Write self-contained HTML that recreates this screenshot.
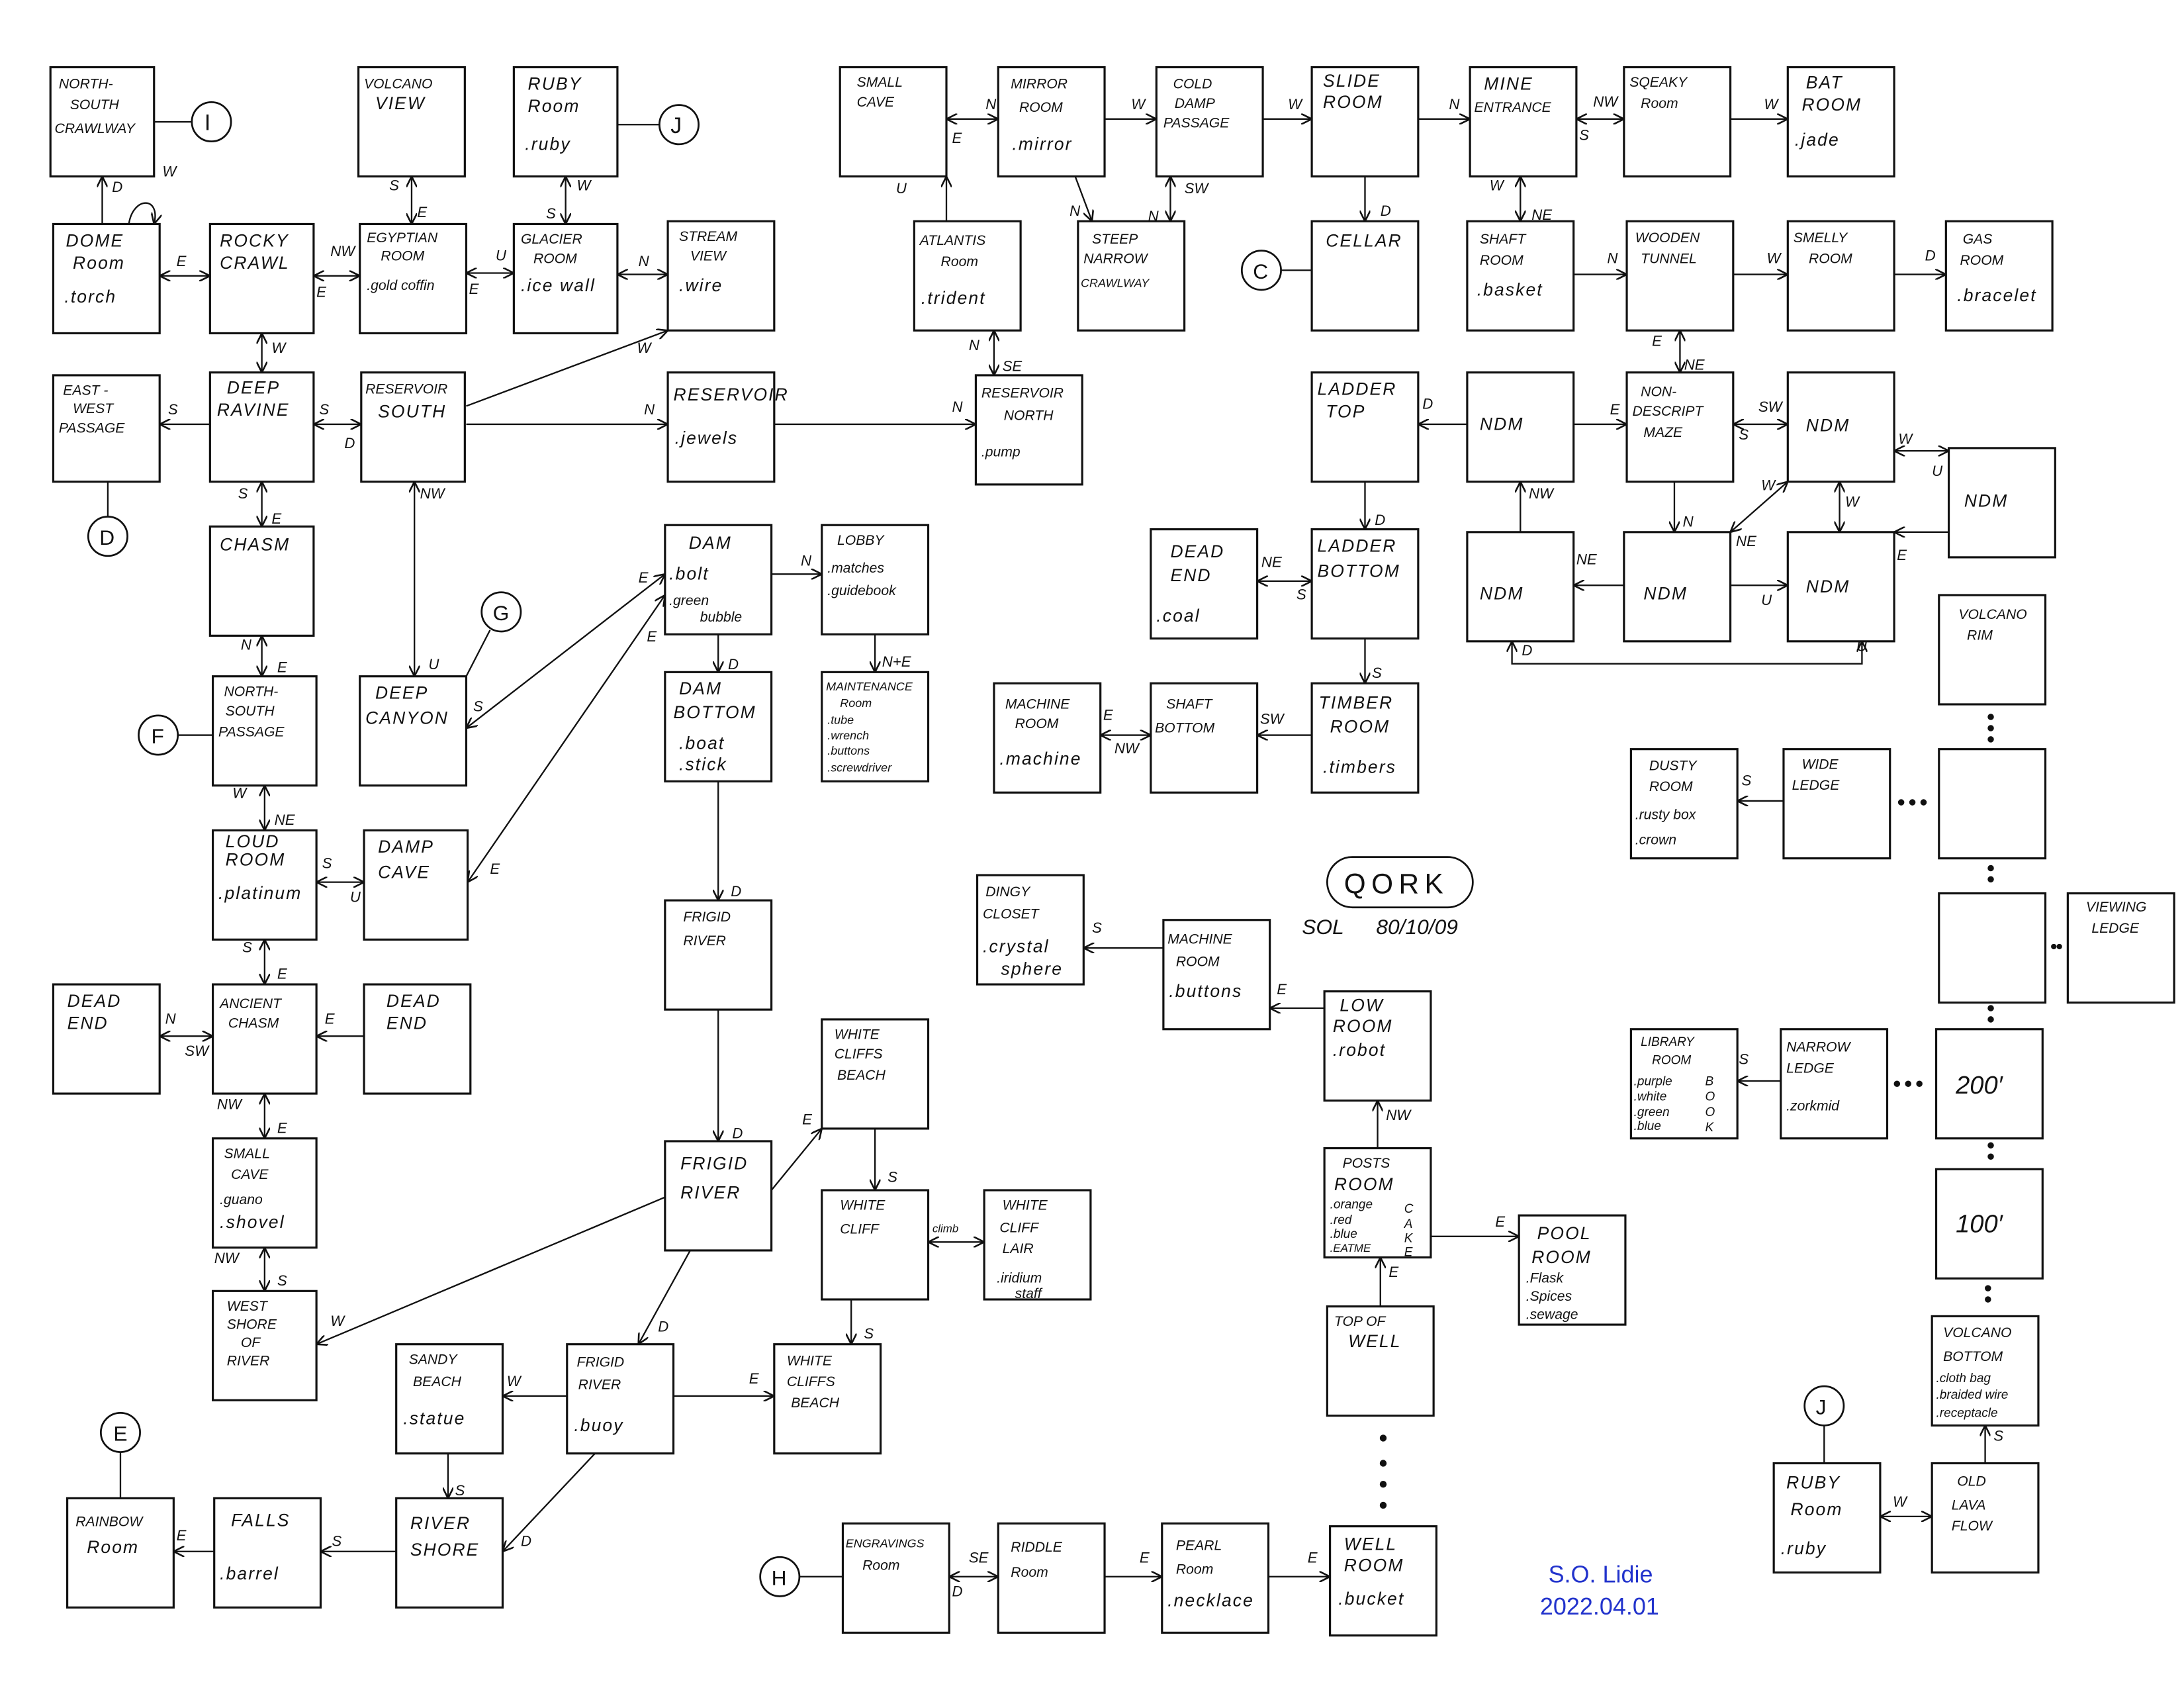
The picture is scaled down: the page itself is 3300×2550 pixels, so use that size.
<!DOCTYPE html>
<html><head><meta charset="utf-8"><style>
html,body{margin:0;padding:0;background:#fff;}
svg{display:block;}
text{font-family:"Liberation Sans",sans-serif;font-style:italic;fill:#111;}
.t{font-size:12.5px;letter-spacing:1px;}
.s{font-size:10px;}
.l{font-size:10.5px;}
rect{fill:#fff;stroke:#111;stroke-width:1.5;}
line,path.c{stroke:#111;stroke-width:1.1;fill:none;}
circle{fill:#fff;stroke:#111;stroke-width:1.3;}
</style></head><body>
<svg width="3300" height="2550" viewBox="0 0 1560 1205.5" xmlns="http://www.w3.org/2000/svg">
<defs><marker id="a" viewBox="0 0 10 10" refX="10" refY="5" markerWidth="7" markerHeight="7" orient="auto-start-reverse"><path d="M0,0 L10,5 L0,10" fill="none" stroke="#111" stroke-width="1.6"/></marker></defs>
<rect x="0" y="0" width="1560" height="1206" style="stroke:none"/>

<!-- boxes -->
<g>
<rect x="36" y="48" width="74" height="78"/><text class="s" x="42" y="63">NORTH-</text><text class="s" x="50" y="78">SOUTH</text><text class="s" x="39" y="95">CRAWLWAY</text>
<rect x="256" y="48" width="76" height="78"/><text class="s" x="260" y="63">VOLCANO</text><text class="t" x="268" y="78">VIEW</text>
<rect x="367" y="48" width="74" height="78"/><text class="t" x="377" y="64">RUBY</text><text class="t" x="377" y="80">Room</text><text class="t" x="375" y="107">.ruby</text>
<rect x="38" y="160" width="76" height="78"/><text class="t" x="47" y="176">DOME</text><text class="t" x="52" y="192">Room</text><text class="t" x="46" y="216">.torch</text>
<rect x="150" y="160" width="74" height="78"/><text class="t" x="157" y="176">ROCKY</text><text class="t" x="157" y="192">CRAWL</text>
<rect x="257" y="160" width="76" height="78"/><text class="s" x="262" y="173">EGYPTIAN</text><text class="s" x="272" y="186">ROOM</text><text class="s" x="262" y="207">.gold coffin</text>
<rect x="367" y="160" width="74" height="78"/><text class="s" x="372" y="174">GLACIER</text><text class="s" x="381" y="188">ROOM</text><text class="t" x="372" y="208">.ice wall</text>
<rect x="477" y="158" width="76" height="78"/><text class="s" x="485" y="172">STREAM</text><text class="s" x="493" y="186">VIEW</text><text class="t" x="485" y="208">.wire</text>
<rect x="38" y="268" width="76" height="76"/><text class="s" x="45" y="282">EAST -</text><text class="s" x="52" y="295">WEST</text><text class="s" x="42" y="309">PASSAGE</text>
<rect x="150" y="266" width="74" height="78"/><text class="t" x="162" y="281">DEEP</text><text class="t" x="155" y="297">RAVINE</text>
<rect x="258" y="266" width="74" height="78"/><text class="s" x="261" y="281">RESERVOIR</text><text class="t" x="270" y="298">SOUTH</text>
<rect x="477" y="266" width="76" height="78"/><text class="t" x="481" y="286">RESERVOIR</text><text class="t" x="482" y="317">.jewels</text>
<rect x="150" y="376" width="74" height="78"/><text class="t" x="157" y="393">CHASM</text>
<rect x="257" y="483" width="76" height="78"/><text class="t" x="268" y="499">DEEP</text><text class="t" x="261" y="517">CANYON</text>
<rect x="152" y="483" width="74" height="78"/><text class="s" x="160" y="497">NORTH-</text><text class="s" x="161" y="511">SOUTH</text><text class="s" x="156" y="526">PASSAGE</text>
<rect x="152" y="593" width="74" height="78"/><text class="t" x="161" y="605">LOUD</text><text class="t" x="161" y="618">ROOM</text><text class="t" x="156" y="642">.platinum</text>
<rect x="260" y="593" width="74" height="78"/><text class="t" x="270" y="609">DAMP</text><text class="t" x="270" y="627">CAVE</text>
<rect x="38" y="703" width="76" height="78"/><text class="t" x="48" y="719">DEAD</text><text class="t" x="48" y="735">END</text>
<rect x="152" y="703" width="74" height="78"/><text class="s" x="157" y="720">ANCIENT</text><text class="s" x="163" y="734">CHASM</text>
<rect x="260" y="703" width="76" height="78"/><text class="t" x="276" y="719">DEAD</text><text class="t" x="276" y="735">END</text>
<rect x="152" y="813" width="74" height="78"/><text class="s" x="160" y="827">SMALL</text><text class="s" x="165" y="842">CAVE</text><text class="s" x="157" y="860">.guano</text><text class="t" x="157" y="877">.shovel</text>
<rect x="152" y="922" width="74" height="78"/><text class="s" x="162" y="936">WEST</text><text class="s" x="162" y="949">SHORE</text><text class="s" x="172" y="962">OF</text><text class="s" x="162" y="975">RIVER</text>
<rect x="48" y="1070" width="76" height="78"/><text class="s" x="54" y="1090">RAINBOW</text><text class="t" x="62" y="1109">Room</text>
<rect x="153" y="1070" width="76" height="78"/><text class="t" x="165" y="1090">FALLS</text><text class="t" x="157" y="1128">.barrel</text>
<rect x="283" y="1070" width="76" height="78"/><text class="t" x="293" y="1092">RIVER</text><text class="t" x="293" y="1111">SHORE</text>
<rect x="283" y="960" width="76" height="78"/><text class="s" x="292" y="974">SANDY</text><text class="s" x="295" y="990">BEACH</text><text class="t" x="288" y="1017">.statue</text>
<rect x="405" y="960" width="76" height="78"/><text class="s" x="412" y="976">FRIGID</text><text class="s" x="413" y="992">RIVER</text><text class="t" x="410" y="1022">.buoy</text>
<rect x="553" y="960" width="76" height="78"/><text class="s" x="562" y="975">WHITE</text><text class="s" x="562" y="990">CLIFFS</text><text class="s" x="565" y="1005">BEACH</text>
<rect x="475" y="815" width="76" height="78"/><text class="t" x="486" y="835">FRIGID</text><text class="t" x="486" y="856">RIVER</text>
<rect x="475" y="643" width="76" height="78"/><text class="s" x="488" y="658">FRIGID</text><text class="s" x="488" y="675">RIVER</text>
<rect x="475" y="480" width="76" height="78"/><text class="t" x="485" y="496">DAM</text><text class="t" x="481" y="513">BOTTOM</text><text class="t" x="485" y="535">.boat</text><text class="t" x="485" y="550">.stick</text>
<rect x="475" y="375" width="76" height="78"/><text class="t" x="492" y="392">DAM</text><text class="t" x="478" y="414">.bolt</text><text class="s" x="478" y="432">.green</text><text class="s" x="500" y="444">bubble</text>
<rect x="587" y="375" width="76" height="78"/><text class="s" x="598" y="389">LOBBY</text><text class="s" x="591" y="409">.matches</text><text class="s" x="591" y="425">.guidebook</text>
<rect x="587" y="480" width="76" height="78"/><text style="font-size:8.5px" x="590" y="493">MAINTENANCE</text><text style="font-size:8.5px" x="600" y="505">Room</text><text style="font-size:8.5px" x="591" y="517">.tube</text><text style="font-size:8.5px" x="591" y="528">.wrench</text><text style="font-size:8.5px" x="591" y="539">.buttons</text><text style="font-size:8.5px" x="591" y="551">.screwdriver</text>
<rect x="587" y="728" width="76" height="78"/><text class="s" x="596" y="742">WHITE</text><text class="s" x="596" y="756">CLIFFS</text><text class="s" x="598" y="771">BEACH</text>
<rect x="587" y="850" width="76" height="78"/><text class="s" x="600" y="864">WHITE</text><text class="s" x="600" y="881">CLIFF</text>
<rect x="703" y="850" width="76" height="78"/><text class="s" x="716" y="864">WHITE</text><text class="s" x="714" y="880">CLIFF</text><text class="s" x="716" y="895">LAIR</text><text class="s" x="712" y="916">.iridium</text><text class="s" x="725" y="927">staff</text>

<rect x="600" y="48" width="76" height="78"/><text class="s" x="612" y="62">SMALL</text><text class="s" x="612" y="76">CAVE</text>
<rect x="713" y="48" width="76" height="78"/><text class="s" x="722" y="63">MIRROR</text><text class="s" x="728" y="80">ROOM</text><text class="t" x="723" y="107">.mirror</text>
<rect x="826" y="48" width="76" height="78"/><text class="s" x="838" y="63">COLD</text><text class="s" x="839" y="77">DAMP</text><text class="s" x="831" y="91">PASSAGE</text>
<rect x="937" y="48" width="76" height="78"/><text class="t" x="945" y="62">SLIDE</text><text class="t" x="945" y="77">ROOM</text>
<rect x="1050" y="48" width="76" height="78"/><text class="t" x="1060" y="64">MINE</text><text class="s" x="1053" y="80">ENTRANCE</text>
<rect x="1160" y="48" width="76" height="78"/><text class="s" x="1164" y="62">SQEAKY</text><text class="s" x="1172" y="77">Room</text>
<rect x="1277" y="48" width="76" height="78"/><text class="t" x="1290" y="63">BAT</text><text class="t" x="1287" y="79">ROOM</text><text class="t" x="1282" y="104">.jade</text>
<rect x="653" y="158" width="76" height="78"/><text class="s" x="657" y="175">ATLANTIS</text><text class="s" x="672" y="190">Room</text><text class="t" x="658" y="217">.trident</text>
<rect x="770" y="158" width="76" height="78"/><text class="s" x="780" y="174">STEEP</text><text class="s" x="774" y="188">NARROW</text><text style="font-size:8.5px" x="772" y="205">CRAWLWAY</text>
<rect x="697" y="268" width="76" height="78"/><text class="s" x="701" y="284">RESERVOIR</text><text class="s" x="717" y="300">NORTH</text><text class="s" x="701" y="326">.pump</text>
<rect x="937" y="158" width="76" height="78"/><text class="t" x="947" y="176">CELLAR</text>
<rect x="1048" y="158" width="76" height="78"/><text class="s" x="1057" y="174">SHAFT</text><text class="s" x="1057" y="189">ROOM</text><text class="t" x="1055" y="211">.basket</text>
<rect x="1162" y="158" width="76" height="78"/><text class="s" x="1168" y="173">WOODEN</text><text class="s" x="1172" y="188">TUNNEL</text>
<rect x="1277" y="158" width="76" height="78"/><text class="s" x="1281" y="173">SMELLY</text><text class="s" x="1292" y="188">ROOM</text>
<rect x="1390" y="158" width="76" height="78"/><text class="s" x="1402" y="174">GAS</text><text class="s" x="1400" y="189">ROOM</text><text class="t" x="1398" y="215">.bracelet</text>
<rect x="937" y="266" width="76" height="78"/><text class="t" x="941" y="282">LADDER</text><text class="t" x="947" y="298">TOP</text>
<rect x="1048" y="266" width="76" height="78"/><text class="t" x="1057" y="307">NDM</text>
<rect x="1162" y="266" width="76" height="78"/><text class="s" x="1172" y="283">NON-</text><text class="s" x="1166" y="297">DESCRIPT</text><text class="s" x="1174" y="312">MAZE</text>
<rect x="1277" y="266" width="76" height="78"/><text class="t" x="1290" y="308">NDM</text>
<rect x="1392" y="320" width="76" height="78"/><text class="t" x="1403" y="362">NDM</text>
<rect x="822" y="378" width="76" height="78"/><text class="t" x="836" y="398">DEAD</text><text class="t" x="836" y="415">END</text><text class="t" x="826" y="444">.coal</text>
<rect x="937" y="378" width="76" height="78"/><text class="t" x="941" y="394">LADDER</text><text class="t" x="941" y="412">BOTTOM</text>
<rect x="1048" y="380" width="76" height="78"/><text class="t" x="1057" y="428">NDM</text>
<rect x="1160" y="380" width="76" height="78"/><text class="t" x="1174" y="428">NDM</text>
<rect x="1277" y="380" width="76" height="78"/><text class="t" x="1290" y="423">NDM</text>
<rect x="710" y="488" width="76" height="78"/><text class="s" x="718" y="506">MACHINE</text><text class="s" x="725" y="520">ROOM</text><text class="t" x="714" y="546">.machine</text>
<rect x="822" y="488" width="76" height="78"/><text class="s" x="833" y="506">SHAFT</text><text class="s" x="825" y="523">BOTTOM</text>
<rect x="937" y="488" width="76" height="78"/><text class="t" x="942" y="506">TIMBER</text><text class="t" x="950" y="523">ROOM</text><text class="t" x="945" y="552">.timbers</text>
<rect x="1385" y="425" width="76" height="78"/><text class="s" x="1399" y="442">VOLCANO</text><text class="s" x="1405" y="457">RIM</text>
<rect x="1165" y="535" width="76" height="78"/><text class="s" x="1178" y="550">DUSTY</text><text class="s" x="1178" y="565">ROOM</text><text class="s" x="1168" y="585">.rusty box</text><text class="s" x="1168" y="603">.crown</text>
<rect x="1274" y="535" width="76" height="78"/><text class="s" x="1287" y="549">WIDE</text><text class="s" x="1280" y="564">LEDGE</text>
<rect x="1385" y="535" width="76" height="78"/>
<rect x="1385" y="638" width="76" height="78"/>
<rect x="1477" y="638" width="76" height="78"/><text class="s" x="1490" y="651">VIEWING</text><text class="s" x="1494" y="666">LEDGE</text>
<rect x="1165" y="735" width="76" height="78"/><text style="font-size:9px" x="1172" y="747">LIBRARY</text><text style="font-size:9px" x="1180" y="760">ROOM</text><text style="font-size:9px" x="1167" y="775">.purple</text><text style="font-size:9px" x="1167" y="786">.white</text><text style="font-size:9px" x="1167" y="797">.green</text><text style="font-size:9px" x="1167" y="807">.blue</text><text style="font-size:9px" x="1218" y="775">B</text><text style="font-size:9px" x="1218" y="786">O</text><text style="font-size:9px" x="1218" y="797">O</text><text style="font-size:9px" x="1218" y="808">K</text>
<rect x="1272" y="735" width="76" height="78"/><text class="s" x="1276" y="751">NARROW</text><text class="s" x="1276" y="766">LEDGE</text><text class="s" x="1276" y="793">.zorkmid</text>
<rect x="1383" y="735" width="76" height="78"/><text x="1397" y="781" style="font-size:18px">200′</text>
<rect x="1383" y="835" width="76" height="78"/><text x="1397" y="880" style="font-size:18px">100′</text>
<rect x="1380" y="940" width="76" height="78"/><text class="s" x="1388" y="955">VOLCANO</text><text class="s" x="1388" y="972">BOTTOM</text><text style="font-size:9px" x="1383" y="987">.cloth bag</text><text style="font-size:9px" x="1383" y="999">.braided wire</text><text style="font-size:9px" x="1383" y="1012">.receptacle</text>
<rect x="1267" y="1045" width="76" height="78"/><text class="t" x="1276" y="1063">RUBY</text><text class="t" x="1279" y="1082">Room</text><text class="t" x="1272" y="1110">.ruby</text>
<rect x="1380" y="1045" width="76" height="78"/><text class="s" x="1398" y="1061">OLD</text><text class="s" x="1394" y="1078">LAVA</text><text class="s" x="1394" y="1093">FLOW</text>
<rect x="698" y="625" width="76" height="78"/><text class="s" x="704" y="640">DINGY</text><text class="s" x="702" y="656">CLOSET</text><text class="t" x="702" y="680">.crystal</text><text class="t" x="715" y="696">sphere</text>
<rect x="831" y="657" width="76" height="78"/><text class="s" x="834" y="674">MACHINE</text><text class="s" x="840" y="690">ROOM</text><text class="t" x="835" y="712">.buttons</text>
<rect x="946" y="708" width="76" height="78"/><text class="t" x="957" y="722">LOW</text><text class="t" x="952" y="737">ROOM</text><text class="t" x="952" y="754">.robot</text>
<rect x="946" y="820" width="76" height="78"/><text class="s" x="959" y="834">POSTS</text><text class="t" x="953" y="850">ROOM</text><text style="font-size:9px" x="950" y="863">.orange</text><text style="font-size:9px" x="950" y="874">.red</text><text style="font-size:9px" x="950" y="884">.blue</text><text style="font-size:8px" x="950" y="894">.EATME</text><text style="font-size:9px" x="1003" y="866">C</text><text style="font-size:9px" x="1003" y="877">A</text><text style="font-size:9px" x="1003" y="887">K</text><text style="font-size:9px" x="1003" y="897">E</text>
<rect x="1085" y="868" width="76" height="78"/><text class="t" x="1098" y="885">POOL</text><text class="t" x="1094" y="902">ROOM</text><text class="s" x="1090" y="916">.Flask</text><text class="s" x="1090" y="929">.Spices</text><text class="s" x="1090" y="942">.sewage</text>
<rect x="948" y="933" width="76" height="78"/><text class="s" x="953" y="947">TOP OF</text><text class="t" x="963" y="962">WELL</text>
<rect x="950" y="1090" width="76" height="78"/><text class="t" x="960" y="1107">WELL</text><text class="t" x="960" y="1122">ROOM</text><text class="t" x="956" y="1146">.bucket</text>
<rect x="602" y="1088" width="76" height="78"/><text style="font-size:8.5px" x="604" y="1105">ENGRAVINGS</text><text class="s" x="616" y="1121">Room</text>
<rect x="713" y="1088" width="76" height="78"/><text class="s" x="722" y="1108">RIDDLE</text><text class="s" x="722" y="1126">Room</text>
<rect x="830" y="1088" width="76" height="78"/><text class="s" x="840" y="1107">PEARL</text><text class="s" x="840" y="1124">Room</text><text class="t" x="834" y="1147">.necklace</text>
</g>

<!-- circles -->
<g>
<circle cx="151" cy="87" r="14"/><text x="146" y="93" style="font-size:16px;font-style:normal">I</text>
<circle cx="485" cy="89" r="14"/><text x="479" y="95" style="font-size:16px;font-style:normal">J</text>
<circle cx="77" cy="383" r="14"/><text x="71" y="389" style="font-size:15px;font-style:normal">D</text>
<circle cx="358" cy="437" r="14"/><text x="352" y="443" style="font-size:15px;font-style:normal">G</text>
<circle cx="113" cy="525" r="14"/><text x="108" y="531" style="font-size:15px;font-style:normal">F</text>
<circle cx="86" cy="1023" r="14"/><text x="81" y="1029" style="font-size:15px;font-style:normal">E</text>
<circle cx="557" cy="1126" r="14"/><text x="551" y="1132" style="font-size:15px;font-style:normal">H</text>
<circle cx="901" cy="193" r="14"/><text x="895" y="199" style="font-size:15px;font-style:normal">C</text>
<circle cx="1303" cy="1004" r="14"/><text x="1297" y="1010" style="font-size:15px;font-style:normal">J</text>
</g>

<!-- QORK -->
<rect x="948" y="612" width="104" height="36" rx="18" style="stroke-width:1.3"/>
<text x="960" y="638" style="font-size:20px;font-style:normal;letter-spacing:4px">QORK</text>
<text x="930" y="667" style="font-size:15px">SOL</text><text x="983" y="667" style="font-size:15px">80/10/09</text>
<text x="1106" y="1130" style="font-size:17px;font-style:normal;fill:#2233cc">S.O. Lidie</text>
<text x="1100" y="1153" style="font-size:17px;font-style:normal;fill:#2233cc">2022.04.01</text>

<!-- connectors -->
<g>
<line x1="73" y1="160" x2="73" y2="126" marker-end="url(#a)"/>
<path class="c" d="M92,160 C95,140 115,140 110,160" marker-end="url(#a)"/>
<line x1="114" y1="197" x2="150" y2="197" marker-start="url(#a)" marker-end="url(#a)"/>
<line x1="224" y1="197" x2="257" y2="197" marker-start="url(#a)" marker-end="url(#a)"/>
<line x1="294" y1="160" x2="294" y2="126" marker-start="url(#a)" marker-end="url(#a)"/>
<line x1="333" y1="195" x2="367" y2="195" marker-start="url(#a)" marker-end="url(#a)"/>
<line x1="404" y1="160" x2="404" y2="126" marker-start="url(#a)" marker-end="url(#a)"/>
<line x1="441" y1="196" x2="477" y2="196" marker-start="url(#a)" marker-end="url(#a)"/>
<line x1="441" y1="89" x2="471" y2="89"/>
<line x1="110" y1="87" x2="137" y2="87"/>
<line x1="187" y1="238" x2="187" y2="266" marker-start="url(#a)" marker-end="url(#a)"/>
<line x1="150" y1="303" x2="114" y2="303" marker-end="url(#a)"/>
<line x1="77" y1="344" x2="77" y2="369"/>
<line x1="224" y1="303" x2="258" y2="303" marker-start="url(#a)" marker-end="url(#a)"/>
<line x1="333" y1="290" x2="477" y2="236" marker-end="url(#a)"/>
<line x1="333" y1="303" x2="477" y2="303" marker-end="url(#a)"/>
<line x1="553" y1="303" x2="697" y2="303" marker-end="url(#a)"/>
<line x1="296" y1="344" x2="296" y2="483" marker-start="url(#a)" marker-end="url(#a)"/>
<line x1="187" y1="344" x2="187" y2="376" marker-start="url(#a)" marker-end="url(#a)"/>
<line x1="187" y1="454" x2="187" y2="483" marker-start="url(#a)" marker-end="url(#a)"/>
<line x1="127" y1="525" x2="152" y2="525"/>
<line x1="189" y1="561" x2="189" y2="593" marker-start="url(#a)" marker-end="url(#a)"/>
<line x1="226" y1="630" x2="260" y2="630" marker-start="url(#a)" marker-end="url(#a)"/>
<line x1="189" y1="671" x2="189" y2="703" marker-start="url(#a)" marker-end="url(#a)"/>
<line x1="114" y1="740" x2="152" y2="740" marker-start="url(#a)" marker-end="url(#a)"/>
<line x1="260" y1="740" x2="226" y2="740" marker-end="url(#a)"/>
<line x1="189" y1="781" x2="189" y2="813" marker-start="url(#a)" marker-end="url(#a)"/>
<line x1="189" y1="891" x2="189" y2="922" marker-start="url(#a)" marker-end="url(#a)"/>
<line x1="333" y1="520" x2="475" y2="410" marker-start="url(#a)" marker-end="url(#a)"/>
<line x1="334" y1="630" x2="475" y2="425" marker-start="url(#a)" marker-end="url(#a)"/>
<line x1="333" y1="483" x2="350" y2="450"/>
<line x1="551" y1="410" x2="587" y2="410" marker-end="url(#a)"/>
<line x1="625" y1="453" x2="625" y2="480" marker-end="url(#a)"/>
<line x1="513" y1="453" x2="513" y2="480" marker-end="url(#a)"/>
<line x1="513" y1="558" x2="513" y2="643" marker-end="url(#a)"/>
<line x1="513" y1="721" x2="513" y2="815" marker-end="url(#a)"/>
<line x1="551" y1="850" x2="587" y2="806" marker-end="url(#a)"/>
<line x1="475" y1="855" x2="226" y2="960" marker-end="url(#a)"/>
<line x1="493" y1="893" x2="456" y2="960" marker-end="url(#a)"/>
<line x1="625" y1="806" x2="625" y2="850" marker-end="url(#a)"/>
<line x1="663" y1="887" x2="703" y2="887" marker-start="url(#a)" marker-end="url(#a)"/>
<line x1="608" y1="928" x2="608" y2="960" marker-end="url(#a)"/>
<line x1="481" y1="997" x2="553" y2="997" marker-end="url(#a)"/>
<line x1="405" y1="997" x2="359" y2="997" marker-end="url(#a)"/>
<line x1="320" y1="1038" x2="320" y2="1070" marker-end="url(#a)"/>
<line x1="425" y1="1038" x2="359" y2="1108" marker-end="url(#a)"/>
<line x1="283" y1="1108" x2="229" y2="1108" marker-end="url(#a)"/>
<line x1="153" y1="1108" x2="124" y2="1108" marker-end="url(#a)"/>
<line x1="86" y1="1070" x2="86" y2="1037"/>

<line x1="676" y1="85" x2="713" y2="85" marker-start="url(#a)" marker-end="url(#a)"/>
<line x1="789" y1="85" x2="826" y2="85" marker-end="url(#a)"/>
<line x1="902" y1="85" x2="937" y2="85" marker-end="url(#a)"/>
<line x1="1013" y1="85" x2="1050" y2="85" marker-end="url(#a)"/>
<line x1="1126" y1="85" x2="1160" y2="85" marker-start="url(#a)" marker-end="url(#a)"/>
<line x1="1236" y1="85" x2="1277" y2="85" marker-end="url(#a)"/>
<line x1="676" y1="158" x2="676" y2="126" marker-end="url(#a)"/>
<line x1="768" y1="126" x2="780" y2="158" marker-end="url(#a)"/>
<line x1="836" y1="126" x2="836" y2="158" marker-start="url(#a)" marker-end="url(#a)"/>
<line x1="710" y1="236" x2="710" y2="268" marker-start="url(#a)" marker-end="url(#a)"/>
<line x1="975" y1="126" x2="975" y2="158" marker-end="url(#a)"/>
<line x1="1086" y1="126" x2="1086" y2="158" marker-start="url(#a)" marker-end="url(#a)"/>
<line x1="915" y1="193" x2="937" y2="193"/>
<line x1="1124" y1="196" x2="1162" y2="196" marker-end="url(#a)"/>
<line x1="1238" y1="196" x2="1277" y2="196" marker-end="url(#a)"/>
<line x1="1353" y1="196" x2="1390" y2="196" marker-end="url(#a)"/>
<line x1="1200" y1="236" x2="1200" y2="266" marker-start="url(#a)" marker-end="url(#a)"/>
<line x1="1048" y1="303" x2="1013" y2="303" marker-end="url(#a)"/>
<line x1="1124" y1="303" x2="1162" y2="303" marker-end="url(#a)"/>
<line x1="1238" y1="303" x2="1277" y2="303" marker-start="url(#a)" marker-end="url(#a)"/>
<line x1="975" y1="344" x2="975" y2="378" marker-end="url(#a)"/>
<line x1="898" y1="415" x2="937" y2="415" marker-start="url(#a)" marker-end="url(#a)"/>
<line x1="975" y1="456" x2="975" y2="488" marker-end="url(#a)"/>
<line x1="937" y1="525" x2="898" y2="525" marker-end="url(#a)"/>
<line x1="786" y1="525" x2="822" y2="525" marker-start="url(#a)" marker-end="url(#a)"/>
<line x1="1086" y1="380" x2="1086" y2="344" marker-end="url(#a)"/>
<line x1="1196" y1="344" x2="1196" y2="380" marker-end="url(#a)"/>
<line x1="1160" y1="418" x2="1124" y2="418" marker-end="url(#a)"/>
<line x1="1314" y1="344" x2="1314" y2="380" marker-start="url(#a)" marker-end="url(#a)"/>
<line x1="1236" y1="380" x2="1277" y2="344" marker-start="url(#a)" marker-end="url(#a)"/>
<line x1="1236" y1="418" x2="1277" y2="418" marker-end="url(#a)"/>
<line x1="1392" y1="380" x2="1353" y2="380" marker-end="url(#a)"/>
<line x1="1353" y1="322" x2="1392" y2="322" marker-start="url(#a)" marker-end="url(#a)"/>
<path class="c" d="M1330,458 L1330,474 L1080,474 L1080,458" marker-start="url(#a)" marker-end="url(#a)"/>

<line x1="1274" y1="572" x2="1241" y2="572" marker-end="url(#a)"/>
<line x1="1272" y1="772" x2="1241" y2="772" marker-end="url(#a)"/>
<line x1="1418" y1="1045" x2="1418" y2="1018" marker-end="url(#a)"/>
<line x1="1343" y1="1083" x2="1380" y2="1083" marker-start="url(#a)" marker-end="url(#a)"/>
<line x1="1303" y1="1045" x2="1303" y2="1018"/>
<line x1="831" y1="677" x2="774" y2="677" marker-end="url(#a)"/>
<line x1="946" y1="720" x2="907" y2="720" marker-end="url(#a)"/>
<line x1="984" y1="820" x2="984" y2="786" marker-end="url(#a)"/>
<line x1="986" y1="933" x2="986" y2="898" marker-end="url(#a)"/>
<line x1="1022" y1="883" x2="1085" y2="883" marker-end="url(#a)"/>
<line x1="571" y1="1126" x2="602" y2="1126"/>
<line x1="678" y1="1126" x2="713" y2="1126" marker-start="url(#a)" marker-end="url(#a)"/>
<line x1="789" y1="1126" x2="830" y2="1126" marker-end="url(#a)"/>
<line x1="906" y1="1126" x2="950" y2="1126" marker-end="url(#a)"/>
</g>
<!-- dotted -->
<g fill="#111">
<circle cx="1422" cy="512" r="1.6" style="fill:#111"/><circle cx="1422" cy="520" r="1.6" style="fill:#111"/><circle cx="1422" cy="528" r="1.6" style="fill:#111"/>
<circle cx="1422" cy="620" r="1.6" style="fill:#111"/><circle cx="1422" cy="628" r="1.6" style="fill:#111"/>
<circle cx="1422" cy="720" r="1.6" style="fill:#111"/><circle cx="1422" cy="728" r="1.6" style="fill:#111"/>
<circle cx="1422" cy="818" r="1.6" style="fill:#111"/><circle cx="1422" cy="826" r="1.6" style="fill:#111"/>
<circle cx="1420" cy="920" r="1.6" style="fill:#111"/><circle cx="1420" cy="928" r="1.6" style="fill:#111"/>
<circle cx="1358" cy="573" r="1.6" style="fill:#111"/><circle cx="1366" cy="573" r="1.6" style="fill:#111"/><circle cx="1374" cy="573" r="1.6" style="fill:#111"/>
<circle cx="1355" cy="774" r="1.6" style="fill:#111"/><circle cx="1363" cy="774" r="1.6" style="fill:#111"/><circle cx="1371" cy="774" r="1.6" style="fill:#111"/>
<circle cx="1467" cy="676" r="1.3" style="fill:#111"/><circle cx="1471" cy="676" r="1.3" style="fill:#111"/>
<circle cx="988" cy="1027" r="1.8" style="fill:#111"/><circle cx="988" cy="1045" r="1.8" style="fill:#111"/><circle cx="988" cy="1060" r="1.8" style="fill:#111"/><circle cx="988" cy="1075" r="1.8" style="fill:#111"/>
</g>
<!-- direction labels -->
<g class="l" style="font-size:10.5px">
<text class="l" x="80" y="137">D</text><text class="l" x="116" y="126">W</text>
<text class="l" x="126" y="190">E</text><text class="l" x="236" y="183">NW</text><text class="l" x="226" y="212">E</text>
<text class="l" x="278" y="136">S</text><text class="l" x="298" y="155">E</text>
<text class="l" x="354" y="186">U</text><text class="l" x="335" y="210">E</text>
<text class="l" x="390" y="156">S</text><text class="l" x="412" y="136">W</text>
<text class="l" x="456" y="190">N</text>
<text class="l" x="194" y="252">W</text><text class="l" x="120" y="296">S</text>
<text class="l" x="228" y="296">S</text><text class="l" x="246" y="320">D</text>
<text class="l" x="455" y="252">W</text><text class="l" x="460" y="296">N</text><text class="l" x="680" y="294">N</text>
<text class="l" x="300" y="356">NW</text><text class="l" x="306" y="478">U</text>
<text class="l" x="170" y="356">S</text><text class="l" x="194" y="374">E</text>
<text class="l" x="172" y="464">N</text><text class="l" x="198" y="480">E</text>
<text class="l" x="166" y="570">W</text><text class="l" x="196" y="589">NE</text>
<text class="l" x="230" y="620">S</text><text class="l" x="250" y="644">U</text>
<text class="l" x="173" y="680">S</text><text class="l" x="198" y="699">E</text>
<text class="l" x="118" y="731">N</text><text class="l" x="132" y="754">SW</text><text class="l" x="232" y="731">E</text>
<text class="l" x="155" y="792">NW</text><text class="l" x="198" y="809">E</text>
<text class="l" x="153" y="902">NW</text><text class="l" x="198" y="918">S</text>
<text class="l" x="338" y="508">S</text><text class="l" x="456" y="416">E</text><text class="l" x="350" y="624">E</text><text class="l" x="462" y="458">E</text>
<text class="l" x="572" y="404">N</text><text class="l" x="630" y="476">N+E</text><text class="l" x="520" y="478">D</text>
<text class="l" x="522" y="640">D</text><text class="l" x="523" y="813">D</text>
<text class="l" x="573" y="803">E</text><text class="l" x="236" y="947">W</text><text class="l" x="470" y="951">D</text>
<text class="l" x="634" y="844">S</text><text style="font-size:8px" x="666" y="880">climb</text><text class="l" x="617" y="956">S</text>
<text class="l" x="535" y="988">E</text><text class="l" x="362" y="990">W</text><text class="l" x="325" y="1068">S</text><text class="l" x="372" y="1104">D</text>
<text class="l" x="237" y="1104">S</text><text class="l" x="126" y="1100">E</text>
<text class="l" x="704" y="78">N</text><text class="l" x="680" y="102">E</text><text class="l" x="808" y="78">W</text>
<text class="l" x="920" y="78">W</text><text class="l" x="1035" y="78">N</text><text class="l" x="1138" y="76">NW</text><text class="l" x="1128" y="100">S</text>
<text class="l" x="1260" y="78">W</text><text class="l" x="640" y="138">U</text><text class="l" x="764" y="154">N</text>
<text class="l" x="846" y="138">SW</text><text class="l" x="820" y="158">N</text>
<text class="l" x="692" y="250">N</text><text class="l" x="716" y="265">SE</text>
<text class="l" x="986" y="154">D</text><text class="l" x="1064" y="136">W</text><text class="l" x="1094" y="157">NE</text>
<text class="l" x="1148" y="188">N</text><text class="l" x="1262" y="188">W</text><text class="l" x="1375" y="186">D</text>
<text class="l" x="1180" y="247">E</text><text class="l" x="1203" y="264">NE</text>
<text class="l" x="1016" y="292">D</text><text class="l" x="1150" y="296">E</text><text class="l" x="1256" y="294">SW</text><text class="l" x="1242" y="314">S</text>
<text class="l" x="982" y="375">D</text><text class="l" x="901" y="405">NE</text><text class="l" x="926" y="428">S</text>
<text class="l" x="980" y="484">S</text><text class="l" x="900" y="517">SW</text><text class="l" x="788" y="514">E</text><text class="l" x="796" y="538">NW</text>
<text class="l" x="1092" y="356">NW</text><text class="l" x="1202" y="376">N</text><text class="l" x="1126" y="403">NE</text>
<text class="l" x="1318" y="362">W</text><text class="l" x="1258" y="350">W</text><text class="l" x="1240" y="390">NE</text><text class="l" x="1258" y="432">U</text>
<text class="l" x="1355" y="400">E</text><text class="l" x="1356" y="317">W</text><text class="l" x="1380" y="340">U</text>
<text class="l" x="1326" y="465">U</text><text class="l" x="1087" y="468">D</text>
<text class="l" x="1244" y="561">S</text><text class="l" x="1242" y="760">S</text><text class="l" x="1424" y="1029">S</text><text class="l" x="1352" y="1076">W</text>
<text class="l" x="780" y="666">S</text><text class="l" x="912" y="710">E</text><text class="l" x="990" y="800">NW</text><text class="l" x="992" y="912">E</text><text class="l" x="1068" y="876">E</text>
<text class="l" x="692" y="1116">SE</text><text class="l" x="680" y="1140">D</text><text class="l" x="814" y="1116">E</text><text class="l" x="934" y="1116">E</text>
</g>
</svg>
</body></html>
